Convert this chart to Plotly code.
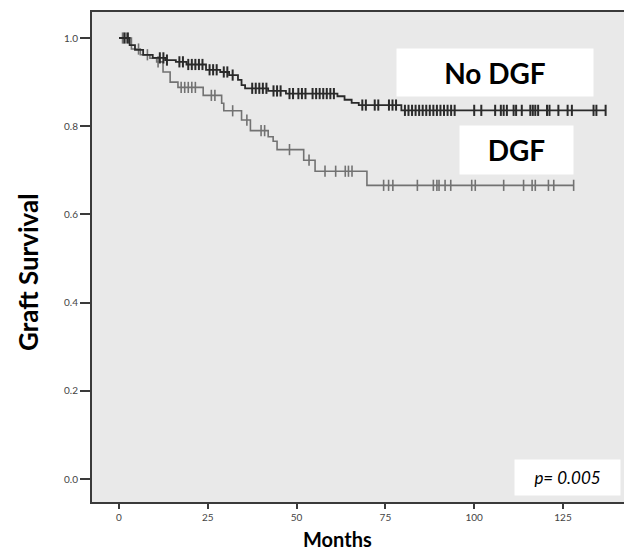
import numpy as np
import plotly.graph_objects as go

# ---- data ----
nodgf_t = [0, 3, 4.5, 6.8, 9.5, 13, 16, 19, 24.5, 28.5, 31, 33.5, 34.5, 35.5, 42, 47, 61.5, 63.5, 65.5, 67.5, 79.5, 137]
nodgf_s = [1.0, 0.984, 0.973, 0.962, 0.955, 0.950, 0.946, 0.940, 0.928, 0.923, 0.916, 0.905, 0.893, 0.886, 0.880, 0.874,
           0.868, 0.860, 0.853, 0.848, 0.836, 0.836]
nodgf_cens = [1.5, 2.5, 11.5, 12.5, 13.5, 17, 18, 19.5, 20.5, 21.5, 22.5, 23.5, 25.5, 26.5, 27.5, 29.5, 30.5, 32,
              37.5, 38.5, 39.5, 40.5, 41.5, 43.5, 44.5, 45.5, 48, 49, 50.5, 51.5, 52.5, 54.5, 55.5, 56.5, 57.5, 58.5,
              59.5, 60.5, 68.5, 69.5, 72, 73, 76, 77, 78, 80.5, 81.5, 82.5, 83.5, 84.5, 85.5, 86.5, 87.5, 88.5, 89.5,
              90.5, 91.5, 92.5, 93.5, 94.5, 100, 102, 105.9, 107.5, 108.3, 109.2, 111.1, 111.8, 113.4, 115.8, 116.5,
              117.2, 118, 120.5, 121.2, 123.7, 126.3, 127.5, 133.6, 134.4, 137]

dgf_t = [0, 3.5, 6, 8.7, 10.6, 12.4, 14.4, 16.6, 23.7, 28.9, 29.5, 34.5, 37, 42, 43.4, 44.5, 52, 55.2, 69.8, 128]
dgf_s = [1.0, 0.975, 0.962, 0.954, 0.946, 0.923, 0.900, 0.888, 0.870, 0.852, 0.835, 0.814, 0.790, 0.776, 0.766,
         0.747, 0.723, 0.698, 0.666, 0.666]
dgf_cens = [1, 2, 5.5, 8, 11, 17.5, 18.5, 19.5, 20.5, 21.5, 26, 27, 32, 36, 40, 41, 48, 53.5, 58, 61, 63.7, 64.6,
            65.6, 74.5, 75.9, 77.1, 84, 88.5, 89.5, 90.1, 91.8, 93.4, 99.3, 100.3, 108.3, 113.9, 116.3, 117.2,
            120.9, 122.4, 128]

y_ticks = [0.0, 0.2, 0.4, 0.6, 0.8, 1.0]
y_labels = ["0.0", "0.2", "0.4", "0.6", "0.8", "1.0"]
x_ticks = [0, 25, 50, 75, 100, 125]
x_labels = ["0", "25", "50", "75", "100", "125"]


def step_at(times, surv, pts):
    times = np.asarray(times)
    surv = np.asarray(surv)
    idx = np.searchsorted(times, np.asarray(pts), side="right") - 1
    idx = np.clip(idx, 0, len(surv) - 1)
    return surv[idx]


C_NO = "#2a2a2a"
C_DGF = "#727272"
FONT = "Lato, Open Sans, sans-serif"

fig = go.Figure()
fig.add_trace(go.Scatter(x=dgf_t, y=dgf_s, mode="lines", line=dict(shape="hv", color=C_DGF, width=1.6),
                         showlegend=False, hoverinfo="skip"))
fig.add_trace(go.Scatter(x=dgf_cens, y=step_at(dgf_t, dgf_s, dgf_cens), mode="markers",
                         marker=dict(symbol="line-ns", size=8, line=dict(width=1.6, color=C_DGF)),
                         showlegend=False))
fig.add_trace(go.Scatter(x=nodgf_t, y=nodgf_s, mode="lines", line=dict(shape="hv", color=C_NO, width=1.8),
                         showlegend=False, hoverinfo="skip"))
fig.add_trace(go.Scatter(x=nodgf_cens, y=step_at(nodgf_t, nodgf_s, nodgf_cens), mode="markers",
                         marker=dict(symbol="line-ns", size=8, line=dict(width=2, color=C_NO)),
                         showlegend=False))

axis_common = dict(showline=True, linecolor="#3a3a3a", linewidth=2, mirror=True, showgrid=False,
                   zeroline=False, ticks="outside", tickcolor="#3a3a3a", tickwidth=2,
                   tickfont=dict(family=FONT, size=10, color="#444444"))

fig.update_xaxes(range=[-7.6, 143.3], tickvals=x_ticks, ticktext=x_labels, ticklen=5, **axis_common)
fig.update_yaxes(range=[-0.052, 1.059], tickvals=y_ticks, ticktext=y_labels, ticklen=10, **axis_common)

box_font = dict(family=FONT, size=28, color="black")
fig.add_annotation(x=105.9, y=0.921, xref="x", yref="y", text="<b>No DGF</b>", showarrow=False,
                   bgcolor="white", width=194, height=45, font=box_font)
fig.add_annotation(x=111.9, y=0.746, xref="x", yref="y", text="<b>DGF</b>", showarrow=False,
                   bgcolor="white", width=111, height=46, font=box_font)
fig.add_annotation(x=126.3, y=0.004, xref="x", yref="y", text="<i>p= 0.005</i>", showarrow=False,
                   bgcolor="white", width=103, height=33,
                   font=dict(family=FONT, size=17, color="black"))

# page is offset 8px by the default body margin, so the figure is 8px smaller
W, H = 624, 542
ML, MR, MT, MB = 84, 4, 4, 48
pw, ph = W - ML - MR, H - MT - MB


def px_to_paper(xp, yp):
    xf, yf = xp - 8, yp - 8
    return (xf - ML) / pw, (H - MB - yf) / ph


gx, gy = px_to_paper(28, 272)
fig.add_annotation(x=gx, y=gy, xref="paper", yref="paper", text="<b>Graft Survival</b>", showarrow=False,
                   xanchor="center", yanchor="middle", textangle=-90,
                   font=dict(family=FONT, size=26, color="black"))
mx, my = px_to_paper(337, 539)
fig.add_annotation(x=mx, y=my, xref="paper", yref="paper", text="<b>Months</b>", showarrow=False,
                   xanchor="center", yanchor="middle",
                   font=dict(family=FONT, size=20, color="black"))

fig.update_layout(width=W, height=H, margin=dict(l=ML, r=MR, t=MT, b=MB, autoexpand=False),
                  plot_bgcolor="#e9e9e9", paper_bgcolor="white", showlegend=False)

fig.write_html("out.html")
